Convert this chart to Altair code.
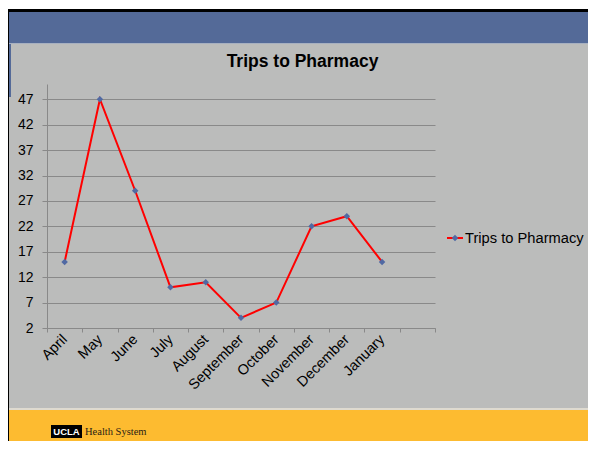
import altair as alt
import pandas as pd

# ---- data ----
months = ["April", "May", "June", "July", "August", "September",
          "October", "November", "December", "January"]
trips = [15, 47, 29, 10, 11, 4, 7, 22, 24, 15]
x_domain = months + [" "]
y_ticks = [2, 7, 12, 17, 22, 27, 32, 37, 42, 47]
title_text = ["Trips to Pharmacy"]
series_name = ["Trips to Pharmacy"]
logo_box = ["UCLA"]
logo_text = ["Health System"]

df = pd.DataFrame({"Month": months, "Trips": trips})
one = pd.DataFrame({"k": [0]})

FONT = "Liberation Sans"
GRAY = "#BBBCBB"
BLUE = "#546A98"
YELLOW = "#FDBB30"
AXIS = "#898989"
MARK = "#5069A3"

W, H = 388, 244
PL, PT, PR, PB = 39, 76, 153, 113


def rect(x, x2, y, y2, color):
    return alt.Chart(one).mark_rect(color=color).encode(
        x=alt.value(x), x2=alt.value(x2), y=alt.value(y), y2=alt.value(y2)
    )


deco = [
    rect(-PL, W + PR, -PT, -75, "#FFFFFF"),
    rect(-PL, W + PR, -75, -72, "#000000"),
    rect(-38, W + PR, -72, -41, BLUE),
    rect(-38, W + PR, -41, -40, "#A7B0C0"),
    rect(-38, -36, -40, 13, BLUE),
    rect(-38, W + PR, 324, 326, "#DEDAD0"),
    rect(-38, W + PR, 326, H + PB, YELLOW),
    rect(-PL, -38, -75, H + PB, "#000000"),
    rect(4, 35, 341, 354, "#000000"),
]

logo1 = alt.Chart(pd.DataFrame({"t": logo_box})).mark_text(
    font=FONT, fontSize=9.5, fontWeight="bold", color="white",
    align="center", baseline="middle"
).encode(x=alt.value(19.5), y=alt.value(347.8), text="t:N")

logo2 = alt.Chart(pd.DataFrame({"t": logo_text})).mark_text(
    font="Liberation Serif", fontSize=10.5, color="#2A2214",
    align="left", baseline="alphabetic"
).encode(x=alt.value(38), y=alt.value(350.5), text="t:N")

title = alt.Chart(pd.DataFrame({"t": title_text})).mark_text(
    font=FONT, fontSize=17.5, fontWeight="bold", color="black",
    align="center", baseline="alphabetic"
).encode(x=alt.value(255.5), y=alt.value(-17), text="t:N")

xenc = alt.X(
    "Month:N",
    sort=x_domain,
    scale=alt.Scale(domain=x_domain, paddingInner=0, paddingOuter=0),
    axis=alt.Axis(
        title=None, labelAngle=315, labelFont=FONT, labelFontSize=14.5,
        labelColor="black", labelOverlap=False, tickBand="extent",
        labelAlign="right", labelBaseline="middle",
        tickSize=4, tickColor=AXIS, domainColor=AXIS, grid=False,
        labelPadding=5,
    ),
)
yenc = alt.Y(
    "Trips:Q",
    scale=alt.Scale(domain=[2, 50], nice=False, zero=False),
    axis=alt.Axis(
        title=None, values=y_ticks, labelFont=FONT, labelFontSize=14,
        labelColor="black", tickSize=5, tickColor=AXIS, domainColor=AXIS,
        grid=True, gridColor=AXIS, labelPadding=9,
    ),
)

line = alt.Chart(df).mark_line(color="#FF0000", strokeWidth=2).encode(x=xenc, y=yenc)
pts = alt.Chart(df).mark_point(
    shape="diamond", filled=True, color=MARK, size=42, opacity=1
).encode(x=xenc, y=yenc)

leg_df = pd.DataFrame({"s": series_name})
leg_line = alt.Chart(leg_df).mark_rule(color="#FF0000", strokeWidth=2).encode(
    x=alt.value(400), x2=alt.value(416), y=alt.value(154)
)
leg_pt = alt.Chart(leg_df).mark_point(
    shape="diamond", filled=True, color=MARK, size=42, opacity=1
).encode(x=alt.value(408), y=alt.value(154))
leg_txt = alt.Chart(leg_df).mark_text(
    font=FONT, fontSize=14.7, color="black", align="left", baseline="middle"
).encode(x=alt.value(418), y=alt.value(154.5), text="s:N")

chart = alt.layer(
    *deco, logo1, logo2, title, line, pts, leg_line, leg_pt, leg_txt
).properties(
    width=W, height=H,
    autosize=alt.AutoSizeParams(type="none"),
    padding={"left": PL, "top": PT, "right": PR, "bottom": PB},
    background=GRAY,
).configure_view(stroke=None)

chart.save("out.html", embed_options={"renderer": "svg", "actions": False})
